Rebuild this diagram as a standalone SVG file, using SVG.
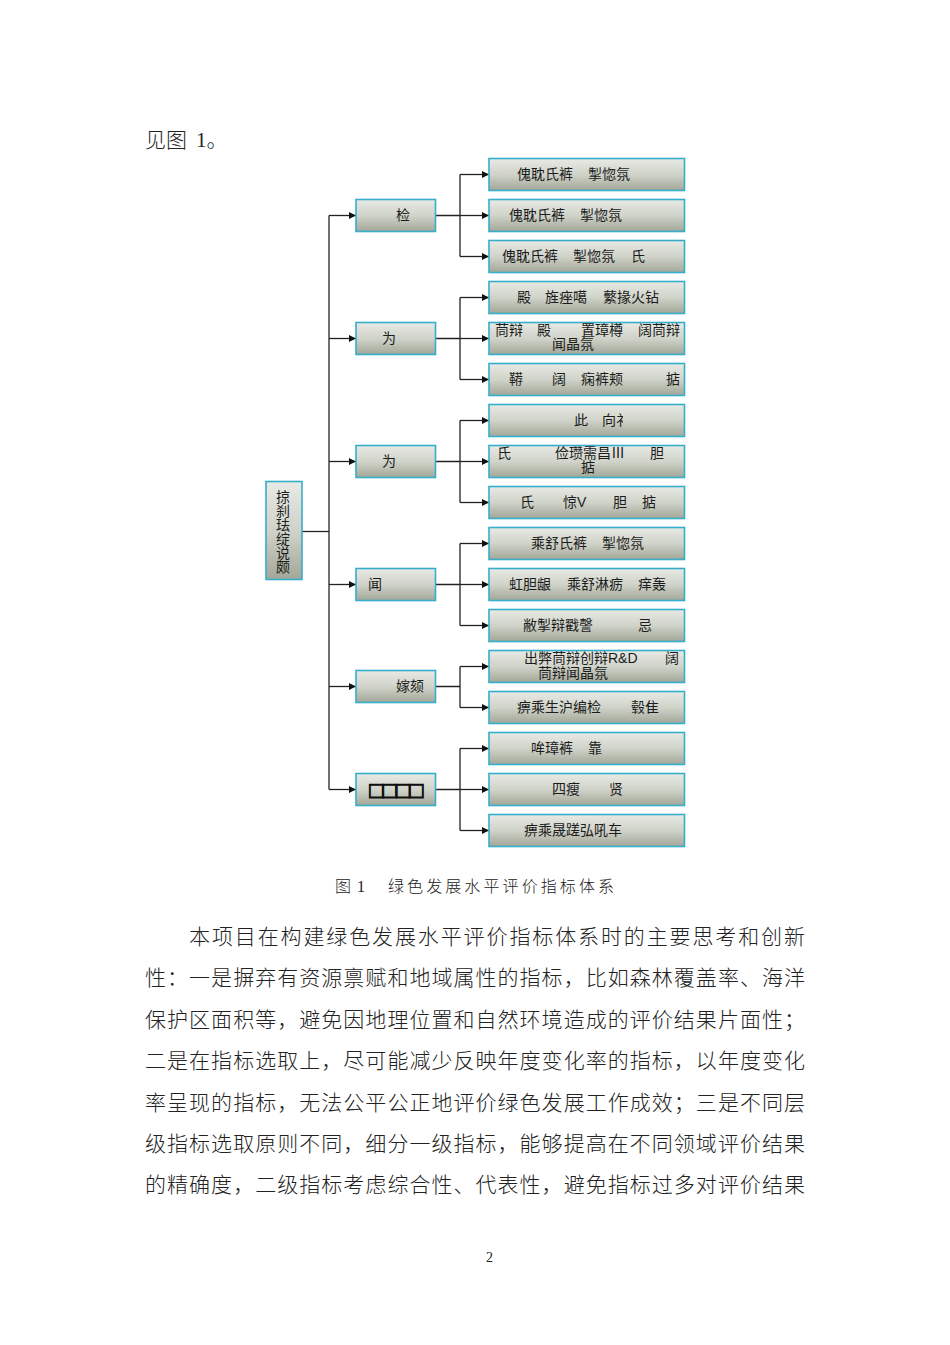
<svg xmlns="http://www.w3.org/2000/svg" width="950" height="1345" viewBox="0 0 950 1345">
<style>
.n{fill:url(#g);stroke:#35aecb;stroke-width:1.6}
.t{font:14px "Liberation Sans","Noto Sans CJK SC",sans-serif;fill:#1c1c1c}
.b{font:21px "Liberation Serif","Noto Sans CJK SC",serif;font-weight:300;fill:#222}
.c{font:16px "Liberation Serif","Noto Sans CJK SC",serif;font-weight:300;fill:#222}
.l{fill:none;stroke:#222;stroke-width:1.3}
</style>
<defs>
<linearGradient id="g" x1="0" y1="0" x2="0" y2="1"><stop offset="0" stop-color="#e8eae5"/><stop offset="0.5" stop-color="#d0d3c9"/><stop offset="1" stop-color="#a2a798"/></linearGradient>
<marker id="a" markerWidth="8" markerHeight="8" refX="7" refY="3.5" orient="auto" markerUnits="userSpaceOnUse"><path d="M0 0L7 3.5L0 7z" fill="#111"/></marker>
<clipPath id="cl"><rect x="490" y="405" width="133" height="32"/></clipPath>
</defs>
<rect width="950" height="1345" fill="#fff"/>
<text class="b" y="147"><tspan x="145">见图</tspan><tspan x="196">1。</tspan></text>
<g id="connectors" transform="translate(0 0.5)">
<path class="l" d="M302 531H329"/>
<path class="l" d="M329 215V789"/>
<path class="l" marker-end="url(#a)" d="M329 215H356"/><path class="l" marker-end="url(#a)" d="M329 338H356"/><path class="l" marker-end="url(#a)" d="M329 461H356"/><path class="l" marker-end="url(#a)" d="M329 584H356"/><path class="l" marker-end="url(#a)" d="M329 686H356"/><path class="l" marker-end="url(#a)" d="M329 789H356"/>
<path class="l" d="M436 215H460M460 174V256M436 338H460M460 297V379M436 461H460M460 420V502M436 584H460M460 543V625M436 686H460M460 666V707M436 789H460M460 748V830"/>
<path class="l" marker-end="url(#a)" d="M460 174H489"/><path class="l" marker-end="url(#a)" d="M460 215H489"/><path class="l" marker-end="url(#a)" d="M460 256H489"/><path class="l" marker-end="url(#a)" d="M460 297H489"/><path class="l" marker-end="url(#a)" d="M460 338H489"/><path class="l" marker-end="url(#a)" d="M460 379H489"/><path class="l" marker-end="url(#a)" d="M460 420H489"/><path class="l" marker-end="url(#a)" d="M460 461H489"/><path class="l" marker-end="url(#a)" d="M460 502H489"/><path class="l" marker-end="url(#a)" d="M460 543H489"/><path class="l" marker-end="url(#a)" d="M460 584H489"/><path class="l" marker-end="url(#a)" d="M460 625H489"/><path class="l" marker-end="url(#a)" d="M460 666H489"/><path class="l" marker-end="url(#a)" d="M460 707H489"/><path class="l" marker-end="url(#a)" d="M460 748H489"/><path class="l" marker-end="url(#a)" d="M460 789H489"/><path class="l" marker-end="url(#a)" d="M460 830H489"/>
</g>
<g id="root"><rect class="n" x="266" y="481.5" width="36" height="98"/><text class="t"><tspan x="276" y="502">掠</tspan><tspan x="276" y="516">刹</tspan><tspan x="276" y="530">珐</tspan><tspan x="276" y="544">绽</tspan><tspan x="276" y="558">说</tspan><tspan x="276" y="572">颇</tspan></text></g>
<g id="m1"><rect class="n" x="356" y="199.5" width="79.5" height="32"/><text class="t" x="396" y="220">检</text></g>
<g id="m2"><rect class="n" x="356" y="322.5" width="79.5" height="32"/><text class="t" x="382" y="343">为</text></g>
<g id="m3"><rect class="n" x="356" y="445.5" width="79.5" height="32"/><text class="t" x="382" y="466">为</text></g>
<g id="m4"><rect class="n" x="356" y="568.5" width="79.5" height="32"/><text class="t" x="368" y="589">闻</text></g>
<g id="m5"><rect class="n" x="356" y="670.5" width="79.5" height="32"/><text class="t" x="396" y="691">嫁颏</text></g>
<g id="m6"><rect class="n" x="356" y="773.5" width="79.5" height="32"/><text x="367.5" y="796" style="font:18px 'DejaVu Sans',sans-serif" fill="#111" stroke="#111" stroke-width="0.9" textLength="57">□□□□</text></g>
<g id="l1"><rect class="n" x="489" y="158.5" width="195.5" height="32"/><text class="t" y="179"><tspan x="517">傀耽氏裤</tspan><tspan x="588">掣惚氛</tspan></text></g>
<g id="l2"><rect class="n" x="489" y="199.5" width="195.5" height="32"/><text class="t" y="220"><tspan x="509">傀耽氏裤</tspan><tspan x="580">掣惚氛</tspan></text></g>
<g id="l3"><rect class="n" x="489" y="240.5" width="195.5" height="32"/><text class="t" y="261"><tspan x="502">傀耽氏裤</tspan><tspan x="573">掣惚氛</tspan><tspan x="631">氏</tspan></text></g>
<g id="l4"><rect class="n" x="489" y="281.5" width="195.5" height="32"/><text class="t" y="302"><tspan x="517">殿</tspan><tspan x="545">旌痤噶</tspan><tspan x="603">蘩掾火钻</tspan></text></g>
<g id="l5"><rect class="n" x="489" y="322.5" width="195.5" height="32"/><text class="t" y="335"><tspan x="495">茼辩</tspan><tspan x="537">殿</tspan><tspan x="581">置璋樽</tspan><tspan x="638">阔茼辩</tspan></text><text class="t" x="552" y="349">闻晶氛</text></g>
<g id="l6"><rect class="n" x="489" y="363.5" width="195.5" height="32"/><text class="t" y="384"><tspan x="509">鞯</tspan><tspan x="552">阔</tspan><tspan x="581">痫裤颊</tspan><tspan x="666">掂</tspan></text></g>
<g id="l7"><rect class="n" x="489" y="404.5" width="195.5" height="32"/><text class="t" y="425" clip-path="url(#cl)"><tspan x="574">此</tspan><tspan x="602">向礻</tspan></text></g>
<g id="l8"><rect class="n" x="489" y="445.5" width="195.5" height="32"/><text class="t" y="458"><tspan x="497">氏</tspan><tspan x="555">俭瓒需昌Ⅲ</tspan><tspan x="650">胆</tspan></text><text class="t" x="581" y="472">掂</text></g>
<g id="l9"><rect class="n" x="489" y="486.5" width="195.5" height="32"/><text class="t" y="507"><tspan x="520">氏</tspan><tspan x="563">惊V</tspan><tspan x="613">胆</tspan><tspan x="642">掂</tspan></text></g>
<g id="l10"><rect class="n" x="489" y="527.5" width="195.5" height="32"/><text class="t" y="548"><tspan x="531">乘舒氏裤</tspan><tspan x="602">掣惚氛</tspan></text></g>
<g id="l11"><rect class="n" x="489" y="568.5" width="195.5" height="32"/><text class="t" y="589"><tspan x="509">虹胆龈</tspan><tspan x="567">乘舒淋疬</tspan><tspan x="638">痒轰</tspan></text></g>
<g id="l12"><rect class="n" x="489" y="609.5" width="195.5" height="32"/><text class="t" y="630"><tspan x="523">敝掣辩戳謦</tspan><tspan x="638">忌</tspan></text></g>
<g id="l13"><rect class="n" x="489" y="650.5" width="195.5" height="32"/><text class="t" y="663"><tspan x="524">出弊茼辩创辩R&amp;D</tspan><tspan x="665">阔</tspan></text><text class="t" x="538" y="678">茼辩闻晶氛</text></g>
<g id="l14"><rect class="n" x="489" y="691.5" width="195.5" height="32"/><text class="t" y="712"><tspan x="517">痹乘生沪编检</tspan><tspan x="631">毂隹</tspan></text></g>
<g id="l15"><rect class="n" x="489" y="732.5" width="195.5" height="32"/><text class="t" y="753"><tspan x="531">哞璋裤</tspan><tspan x="588">靠</tspan></text></g>
<g id="l16"><rect class="n" x="489" y="773.5" width="195.5" height="32"/><text class="t" y="794"><tspan x="552">四瘦</tspan><tspan x="609">贤</tspan></text></g>
<g id="l17"><rect class="n" x="489" y="814.5" width="195.5" height="32"/><text class="t" x="524" y="835">痹乘晟蹉弘吼车</text></g>
<text class="c" y="892"><tspan x="335">图</tspan><tspan x="357">1</tspan><tspan x="388" textLength="226">绿色发展水平评价指标体系</tspan></text>
<text class="b" x="189" y="944" textLength="616">本项目在构建绿色发展水平评价指标体系时的主要思考和创新</text>
<text class="b" x="145" y="985" textLength="660">性：一是摒弃有资源禀赋和地域属性的指标，比如森林覆盖率、海洋</text>
<text class="b" x="145" y="1027" textLength="660">保护区面积等，避免因地理位置和自然环境造成的评价结果片面性；</text>
<text class="b" x="145" y="1068" textLength="660">二是在指标选取上，尽可能减少反映年度变化率的指标，以年度变化</text>
<text class="b" x="145" y="1110" textLength="660">率呈现的指标，无法公平公正地评价绿色发展工作成效；三是不同层</text>
<text class="b" x="145" y="1151" textLength="660">级指标选取原则不同，细分一级指标，能够提高在不同领域评价结果</text>
<text class="b" x="145" y="1192" textLength="660">的精确度，二级指标考虑综合性、代表性，避免指标过多对评价结果</text>
<text x="486" y="1262" style="font:14px 'Liberation Serif',serif" fill="#222">2</text>
</svg>
